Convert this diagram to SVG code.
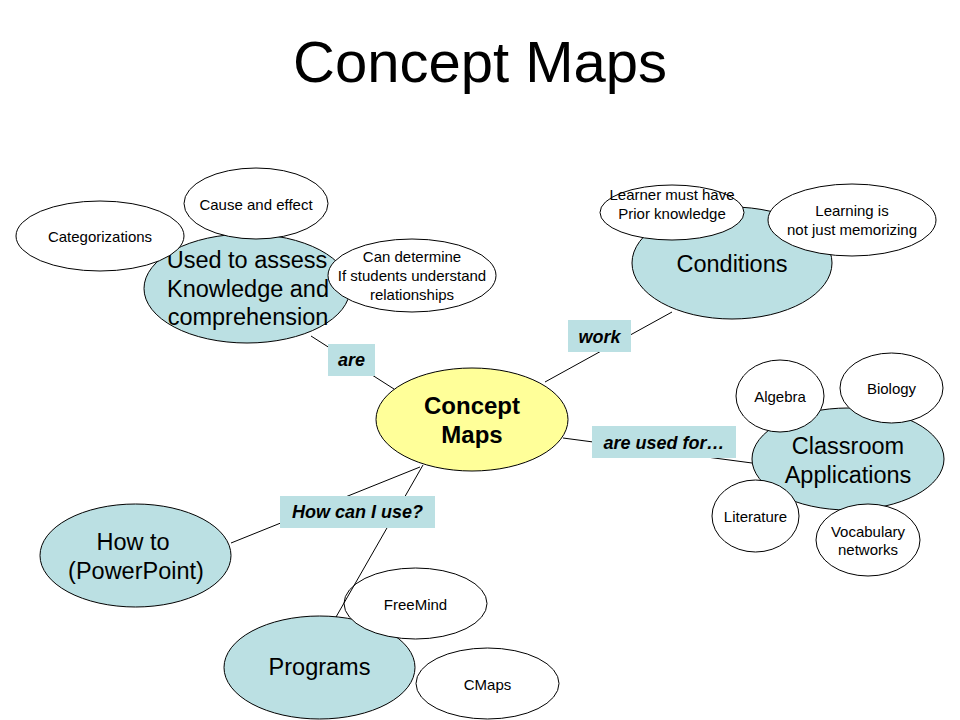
<svg xmlns="http://www.w3.org/2000/svg" width="960" height="720" viewBox="0 0 960 720">
<style>
text{font-family:"Liberation Sans",Arial,sans-serif;fill:#000;text-anchor:middle}
.title{font-size:58px}
.big{font-size:23.5px}
.center{font-size:24px;font-weight:bold}
.small{font-size:15px}
.lbl{font-size:18px;font-weight:bold;font-style:italic}
.teal{fill:#BBE0E3;stroke:#000;stroke-width:1}
.white{fill:#fff;stroke:#000;stroke-width:1}
.yellow{fill:#FFFF99;stroke:#000;stroke-width:1}
.box{fill:#BBE0E3;stroke:none}
.conn line{stroke:#000;stroke-width:1}
</style>
<rect width="960" height="720" fill="#fff"/>
<text class="title" x="480" y="82">Concept Maps</text>

<g id="used-to-assess">
<ellipse class="teal" cx="247" cy="288.5" rx="103" ry="54.5"/>
<text class="big" x="247" y="268">Used to assess</text>
<text class="big" x="248" y="297">Knowledge and</text>
<text class="big" x="248" y="325">comprehension</text>
</g>
<g id="categorizations">
<ellipse class="white" cx="100" cy="236" rx="84" ry="35"/>
<text class="small" x="100" y="242">Categorizations</text>
</g>
<g id="cause-and-effect">
<ellipse class="white" cx="256" cy="203.5" rx="72" ry="35.5"/>
<text class="small" x="256" y="210">Cause and effect</text>
</g>
<g id="can-determine">
<ellipse class="white" cx="412" cy="275.5" rx="84" ry="36.5"/>
<text class="small" x="412" y="262">Can determine</text>
<text class="small" x="412" y="281">If students understand</text>
<text class="small" x="412" y="300">relationships</text>
</g>

<g id="conditions">
<ellipse class="teal" cx="732" cy="263" rx="100" ry="56"/>
<text class="big" x="732" y="272">Conditions</text>
</g>
<g id="learner-must-have">
<ellipse class="white" cx="672" cy="212.5" rx="72" ry="27.5"/>
<text class="small" x="672" y="200">Learner must have</text>
<text class="small" x="672" y="219">Prior knowledge</text>
</g>
<g id="learning-is">
<ellipse class="white" cx="852" cy="220" rx="84" ry="36"/>
<text class="small" x="852" y="216">Learning is</text>
<text class="small" x="852" y="235">not just memorizing</text>
</g>

<g id="classroom-applications">
<ellipse class="teal" cx="848" cy="459" rx="96" ry="51"/>
<text class="big" x="848" y="454">Classroom</text>
<text class="big" x="848" y="483">Applications</text>
</g>
<g id="algebra">
<ellipse class="white" cx="780" cy="396" rx="44" ry="36"/>
<text class="small" x="780" y="402">Algebra</text>
</g>
<g id="biology">
<ellipse class="white" cx="891.5" cy="388" rx="51.5" ry="35"/>
<text class="small" x="891.5" y="394">Biology</text>
</g>
<g id="literature">
<ellipse class="white" cx="755.5" cy="516" rx="43.5" ry="36"/>
<text class="small" x="755.5" y="522">Literature</text>
</g>
<g id="vocabulary-networks">
<ellipse class="white" cx="868" cy="540" rx="52" ry="36"/>
<text class="small" x="868" y="537">Vocabulary</text>
<text class="small" x="868" y="555">networks</text>
</g>

<g id="how-to">
<ellipse class="teal" cx="135.5" cy="555.5" rx="95.5" ry="51.5"/>
<text class="big" x="133" y="550">How to</text>
<text class="big" x="136" y="579">(PowerPoint)</text>
</g>
<g id="programs">
<ellipse class="teal" cx="319.5" cy="667.5" rx="95.5" ry="51.5"/>
<text class="big" x="319.5" y="675">Programs</text>
</g>
<g id="freemind">
<ellipse class="white" cx="415.5" cy="603.5" rx="71.5" ry="35.5"/>
<text class="small" x="415.5" y="610">FreeMind</text>
</g>
<g id="cmaps">
<ellipse class="white" cx="487.5" cy="683.5" rx="71.5" ry="35.5"/>
<text class="small" x="487.5" y="690">CMaps</text>
</g>

<g id="concept-maps">
<ellipse class="yellow" cx="472" cy="419.5" rx="96" ry="51.5"/>
<text class="center" x="472" y="414">Concept</text>
<text class="center" x="472" y="443">Maps</text>
</g>

<g id="connectors" class="conn">
<line x1="311" y1="336" x2="394" y2="389"/>
<line x1="672" y1="312" x2="545" y2="382"/>
<line x1="563" y1="438" x2="752" y2="463"/>
<line x1="420" y1="467" x2="231" y2="543"/>
<line x1="423" y1="465" x2="336" y2="617"/>
</g>

<g id="label-are">
<rect class="box" x="328" y="344" width="47" height="32"/>
<text class="lbl" x="351.5" y="366">are</text>
</g>
<g id="label-work">
<rect class="box" x="568" y="320" width="63" height="32"/>
<text class="lbl" x="599.5" y="343">work</text>
</g>
<g id="label-are-used-for">
<rect class="box" x="592" y="426" width="144" height="32"/>
<text class="lbl" x="664" y="449">are used for…</text>
</g>
<g id="label-how-can-i-use">
<rect class="box" x="280" y="496" width="155" height="32"/>
<text class="lbl" x="357.5" y="518">How can I use?</text>
</g>
</svg>
